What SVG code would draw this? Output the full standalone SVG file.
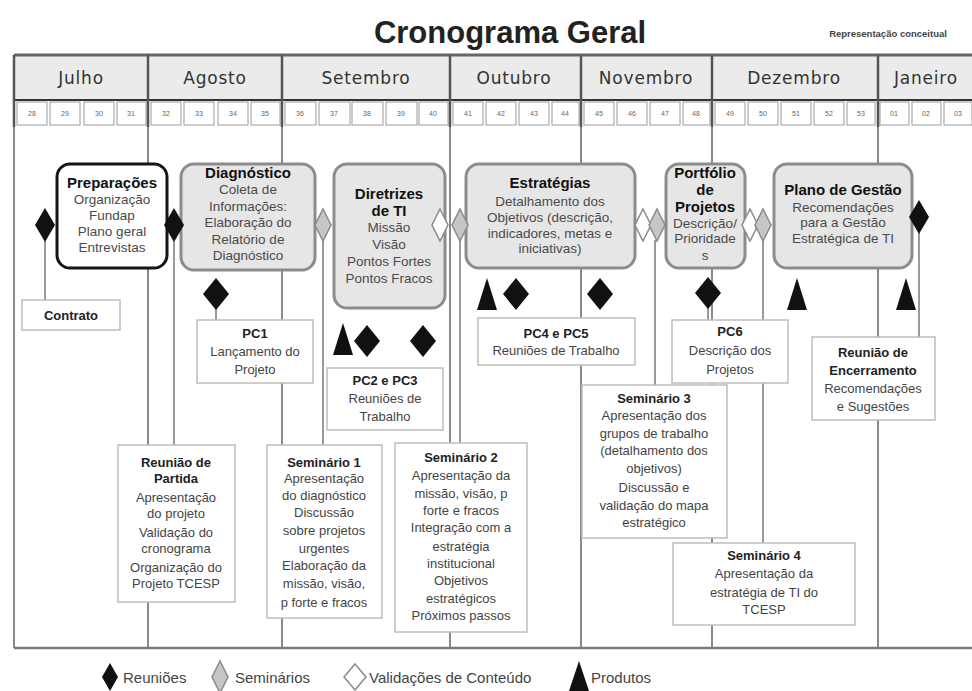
<svg xmlns="http://www.w3.org/2000/svg" width="972" height="691" viewBox="0 0 972 691">
<style>
  text { font-family: "Liberation Sans", Arial, sans-serif; }
  .title { font-size: 31px; font-weight: bold; fill: #222; }
  .sub { font-size: 9.5px; fill: #444; font-weight: bold; }
  .month { font-family: "DejaVu Sans", Verdana, sans-serif; font-size: 17px; fill: #333; letter-spacing: 0.8px; text-anchor: middle; }
  .wk { font-size: 7px; fill: #666; text-anchor: middle; }
  .wcell { fill: #fff; stroke: #9a9a9a; stroke-width: 1; }
  .grid { stroke: #8a8a8a; stroke-width: 2; fill: none; }
  .hdr { stroke: #555; stroke-width: 2.5; fill: none; }
  .conn { stroke: #9a9a9a; stroke-width: 2; fill: none; }
  .node { fill: #e6e6e6; stroke: #8c8c8c; stroke-width: 3; }
  .node0 { fill: #fff; stroke: #151515; stroke-width: 3; }
  .box { fill: #fff; stroke: #bdbdbd; stroke-width: 1.5; }
  .nt { font-size: 15px; font-weight: bold; fill: #111; text-anchor: middle; }
  .nb { font-size: 13.5px; fill: #4a4a4a; text-anchor: middle; }
  .bt { font-size: 13px; font-weight: bold; fill: #222; text-anchor: middle; }
  .bb { font-size: 13px; fill: #444; text-anchor: middle; }
  .leg { font-size: 15px; fill: #444; }
  .blk { fill: #111; }
  .gry { fill: #c6c6c6; stroke: #8a8a8a; stroke-width: 1.5; }
  .wht { fill: #fff; stroke: #8a8a8a; stroke-width: 1.5; }
</style>
<defs>
  <path id="dB" d="M0,-17 L10,0 L0,17 L-10,0Z"/>
  <path id="dBig" d="M0,-16 L13,0 L0,16 L-13,0Z"/>
  <path id="dS" d="M0,-16 L8,0 L0,16 L-8,0Z"/>
  <path id="tri" d="M0,-16 L10,16 L-10,16Z"/>
</defs>

<text class="title" x="510" y="43" text-anchor="middle">Cronograma Geral</text>
<text class="sub" x="888" y="37" text-anchor="middle">Representação conceitual</text>

<g id="table">
  <rect x="14" y="55" width="958" height="45" fill="#ebebeb"/>
  <line x1="14" y1="55" x2="972" y2="55" stroke="#666" stroke-width="3"/>
  <line x1="14" y1="100" x2="972" y2="100" stroke="#333" stroke-width="2"/>
  <text class="month" x="81" y="84">Julho</text>
  <text class="month" x="215" y="84">Agosto</text>
  <text class="month" x="366" y="84">Setembro</text>
  <text class="month" x="514" y="84">Outubro</text>
  <text class="month" x="646" y="84">Novembro</text>
  <text class="month" x="794" y="84">Dezembro</text>
  <text class="month" x="926" y="84">Janeiro</text>
  <g id="weeks">
    <rect class="wcell" x="17" y="102" width="30" height="23"/><text class="wk" x="32" y="116">28</text>
    <rect class="wcell" x="50" y="102" width="30" height="23"/><text class="wk" x="65" y="116">29</text>
    <rect class="wcell" x="84" y="102" width="30" height="23"/><text class="wk" x="99" y="116">30</text>
    <rect class="wcell" x="117" y="102" width="29" height="23"/><text class="wk" x="131" y="116">31</text>
    <rect class="wcell" x="151" y="102" width="30" height="23"/><text class="wk" x="166" y="116">32</text>
    <rect class="wcell" x="184" y="102" width="30" height="23"/><text class="wk" x="199" y="116">33</text>
    <rect class="wcell" x="218" y="102" width="30" height="23"/><text class="wk" x="233" y="116">34</text>
    <rect class="wcell" x="251" y="102" width="29" height="23"/><text class="wk" x="265" y="116">35</text>
    <rect class="wcell" x="285" y="102" width="31" height="23"/><text class="wk" x="300" y="116">36</text>
    <rect class="wcell" x="319" y="102" width="31" height="23"/><text class="wk" x="334" y="116">37</text>
    <rect class="wcell" x="352" y="102" width="31" height="23"/><text class="wk" x="367" y="116">38</text>
    <rect class="wcell" x="386" y="102" width="31" height="23"/><text class="wk" x="401" y="116">39</text>
    <rect class="wcell" x="419" y="102" width="29" height="23"/><text class="wk" x="433" y="116">40</text>
    <rect class="wcell" x="453" y="102" width="30" height="23"/><text class="wk" x="468" y="116">41</text>
    <rect class="wcell" x="486" y="102" width="30" height="23"/><text class="wk" x="501" y="116">42</text>
    <rect class="wcell" x="519" y="102" width="30" height="23"/><text class="wk" x="534" y="116">43</text>
    <rect class="wcell" x="552" y="102" width="27" height="23"/><text class="wk" x="565" y="116">44</text>
    <rect class="wcell" x="584" y="102" width="30" height="23"/><text class="wk" x="599" y="116">45</text>
    <rect class="wcell" x="617" y="102" width="30" height="23"/><text class="wk" x="632" y="116">46</text>
    <rect class="wcell" x="650" y="102" width="30" height="23"/><text class="wk" x="665" y="116">47</text>
    <rect class="wcell" x="683" y="102" width="27" height="23"/><text class="wk" x="696" y="116">48</text>
    <rect class="wcell" x="715" y="102" width="30" height="23"/><text class="wk" x="730" y="116">49</text>
    <rect class="wcell" x="748" y="102" width="30" height="23"/><text class="wk" x="763" y="116">50</text>
    <rect class="wcell" x="781" y="102" width="30" height="23"/><text class="wk" x="796" y="116">51</text>
    <rect class="wcell" x="814" y="102" width="30" height="23"/><text class="wk" x="829" y="116">52</text>
    <rect class="wcell" x="847" y="102" width="28" height="23"/><text class="wk" x="861" y="116">53</text>
    <rect class="wcell" x="880" y="102" width="29" height="23"/><text class="wk" x="894" y="116">01</text>
    <rect class="wcell" x="912" y="102" width="29" height="23"/><text class="wk" x="926" y="116">02</text>
    <rect class="wcell" x="944" y="102" width="28" height="23"/><text class="wk" x="958" y="116">03</text>
  </g>
  <g class="grid">
    <line x1="14" y1="55" x2="14" y2="648"/>
    <line x1="148" y1="55" x2="148" y2="648"/>
    <line x1="282" y1="55" x2="282" y2="648"/>
    <line x1="450" y1="55" x2="450" y2="648"/>
    <line x1="581" y1="55" x2="581" y2="648"/>
    <line x1="712" y1="55" x2="712" y2="648"/>
    <line x1="878" y1="55" x2="878" y2="648"/>
    <line x1="14" y1="648" x2="972" y2="648" stroke="#7a7a7a" stroke-width="2.5"/>
  </g>
  <g class="hdr">
    <line x1="14" y1="55" x2="14" y2="127"/>
    <line x1="148" y1="55" x2="148" y2="127"/>
    <line x1="282" y1="55" x2="282" y2="127"/>
    <line x1="450" y1="55" x2="450" y2="127"/>
    <line x1="581" y1="55" x2="581" y2="127"/>
    <line x1="712" y1="55" x2="712" y2="127"/>
    <line x1="878" y1="55" x2="878" y2="127"/>
  </g>
</g>

<g id="connectors" class="conn">
  <line x1="45" y1="240" x2="45" y2="300"/>
  <line x1="174" y1="240" x2="174" y2="445"/>
  <line x1="216" y1="308" x2="216" y2="320"/>
  <line x1="323" y1="240" x2="323" y2="445"/>
  <line x1="460" y1="240" x2="460" y2="443"/>
  <line x1="655" y1="240" x2="655" y2="385"/>
  <line x1="763" y1="240" x2="763" y2="543"/>
  <line x1="708" y1="307" x2="708" y2="320"/>
  <line x1="919" y1="232" x2="919" y2="337"/>
</g>

<g id="preparacoes">
  <rect class="node0" x="57" y="164" width="110" height="104" rx="13"/>
  <text class="nt" x="112" y="188">Preparações</text>
  <text class="nb" x="112" y="204">Organização</text>
  <text class="nb" x="112" y="220">Fundap</text>
  <text class="nb" x="112" y="236">Plano geral</text>
  <text class="nb" x="112" y="252">Entrevistas</text>
</g>
<g id="diagnostico">
  <rect class="node" x="181" y="164" width="134" height="106" rx="13"/>
  <text class="nt" x="248" y="178">Diagnóstico</text>
  <text class="nb" x="248" y="194">Coleta de</text>
  <text class="nb" x="248" y="211">Informações:</text>
  <text class="nb" x="248" y="227">Elaboração do</text>
  <text class="nb" x="248" y="244">Relatório de</text>
  <text class="nb" x="248" y="260">Diagnóstico</text>
</g>
<g id="diretrizes">
  <rect class="node" x="334" y="164" width="111" height="144" rx="13"/>
  <text class="nt" x="389" y="199">Diretrizes</text>
  <text class="nt" x="389" y="216">de TI</text>
  <text class="nb" x="389" y="232">Missão</text>
  <text class="nb" x="389" y="249">Visão</text>
  <text class="nb" x="389" y="266">Pontos Fortes</text>
  <text class="nb" x="389" y="283">Pontos Fracos</text>
</g>
<g id="estrategias">
  <rect class="node" x="466" y="164" width="169" height="104" rx="13"/>
  <text class="nt" x="550" y="188">Estratégias</text>
  <text class="nb" x="550" y="206">Detalhamento dos</text>
  <text class="nb" x="550" y="222">Objetivos (descrição,</text>
  <text class="nb" x="550" y="238">indicadores, metas e</text>
  <text class="nb" x="550" y="253">iniciativas)</text>
</g>
<g id="portfolio">
  <rect class="node" x="666" y="164" width="79" height="104" rx="13"/>
  <text class="nt" x="705" y="178">Portfólio</text>
  <text class="nt" x="705" y="195">de</text>
  <text class="nt" x="705" y="212">Projetos</text>
  <text class="nb" x="705" y="228">Descrição/</text>
  <text class="nb" x="705" y="243">Prioridade</text>
  <text class="nb" x="705" y="260">s</text>
</g>
<g id="plano">
  <rect class="node" x="774" y="164" width="138" height="104" rx="13"/>
  <text class="nt" x="843" y="195">Plano de Gestão</text>
  <text class="nb" x="843" y="212">Recomendações</text>
  <text class="nb" x="843" y="227">para a Gestão</text>
  <text class="nb" x="843" y="243">Estratégica de TI</text>
</g>

<g id="markers">
  <use href="#dB" class="blk" x="45" y="225"/>
  <use href="#dB" class="blk" x="174" y="225"/>
  <use href="#dS" class="gry" x="323" y="225"/>
  <use href="#dS" class="wht" x="440" y="225"/>
  <use href="#dS" class="gry" x="460" y="225"/>
  <use href="#dS" class="wht" x="643" y="225"/>
  <use href="#dS" class="gry" x="657" y="225"/>
  <use href="#dS" class="wht" x="750" y="225"/>
  <use href="#dS" class="gry" x="763" y="225"/>
  <use href="#dB" class="blk" x="919" y="217"/>
  <use href="#dBig" class="blk" x="216" y="294"/>
  <use href="#tri" class="blk" x="343" y="339"/>
  <use href="#dBig" class="blk" x="367" y="341"/>
  <use href="#dBig" class="blk" x="423" y="341"/>
  <use href="#tri" class="blk" x="487" y="294"/>
  <use href="#dBig" class="blk" x="516" y="294"/>
  <use href="#dBig" class="blk" x="600" y="294"/>
  <use href="#dBig" class="blk" x="708" y="293"/>
  <use href="#tri" class="blk" x="797" y="294"/>
  <use href="#tri" class="blk" x="906" y="294"/>
</g>

<g id="contrato">
  <rect class="box" x="22" y="300" width="98" height="30"/>
  <text class="bt" x="71" y="320">Contrato</text>
</g>
<g id="pc1">
  <rect class="box" x="197" y="320" width="116" height="63"/>
  <text class="bt" x="255" y="338">PC1</text>
  <text class="bb" x="255" y="356">Lançamento do</text>
  <text class="bb" x="255" y="374">Projeto</text>
</g>
<g id="pc2pc3">
  <rect class="box" x="327" y="368" width="116" height="62"/>
  <text class="bt" x="385" y="385">PC2 e PC3</text>
  <text class="bb" x="385" y="403">Reuniões de</text>
  <text class="bb" x="385" y="421">Trabalho</text>
</g>
<g id="pc4pc5">
  <rect class="box" x="478" y="318" width="157" height="47"/>
  <text class="bt" x="556" y="338">PC4 e PC5</text>
  <text class="bb" x="556" y="355">Reuniões de Trabalho</text>
</g>
<g id="pc6">
  <rect class="box" x="672" y="320" width="116" height="63"/>
  <text class="bt" x="730" y="336">PC6</text>
  <text class="bb" x="730" y="355">Descrição dos</text>
  <text class="bb" x="730" y="374">Projetos</text>
</g>
<g id="encerramento">
  <rect class="box" x="812" y="337" width="123" height="83"/>
  <text class="bt" x="873" y="357">Reunião de</text>
  <text class="bt" x="873" y="375">Encerramento</text>
  <text class="bb" x="873" y="393">Recomendações</text>
  <text class="bb" x="873" y="411">e Sugestões</text>
</g>
<g id="partida">
  <rect class="box" x="118" y="445" width="117" height="157"/>
  <text class="bt" x="176" y="467">Reunião de</text>
  <text class="bt" x="176" y="483">Partida</text>
  <text class="bb" x="176" y="502">Apresentação</text>
  <text class="bb" x="176" y="518">do projeto</text>
  <text class="bb" x="176" y="537">Validação do</text>
  <text class="bb" x="176" y="553">cronograma</text>
  <text class="bb" x="176" y="572">Organização do</text>
  <text class="bb" x="176" y="588">Projeto TCESP</text>
</g>
<g id="seminario1">
  <rect class="box" x="267" y="445" width="115" height="173"/>
  <text class="bt" x="324" y="467">Seminário 1</text>
  <text class="bb" x="324" y="483">Apresentação</text>
  <text class="bb" x="324" y="500">do diagnóstico</text>
  <text class="bb" x="324" y="517">Discussão</text>
  <text class="bb" x="324" y="535">sobre projetos</text>
  <text class="bb" x="324" y="553">urgentes</text>
  <text class="bb" x="324" y="570">Elaboração da</text>
  <text class="bb" x="324" y="588">missão, visão,</text>
  <text class="bb" x="324" y="607">p forte e fracos</text>
</g>
<g id="seminario2">
  <rect class="box" x="395" y="443" width="132" height="189"/>
  <text class="bt" x="461" y="462">Seminário 2</text>
  <text class="bb" x="461" y="480">Apresentação da</text>
  <text class="bb" x="461" y="498">missão, visão, p</text>
  <text class="bb" x="461" y="515">forte e fracos</text>
  <text class="bb" x="461" y="532">Integração com a</text>
  <text class="bb" x="461" y="551">estratégia</text>
  <text class="bb" x="461" y="568">institucional</text>
  <text class="bb" x="461" y="585">Objetivos</text>
  <text class="bb" x="461" y="603">estratégicos</text>
  <text class="bb" x="461" y="620">Próximos passos</text>
</g>
<g id="seminario3">
  <rect class="box" x="582" y="385" width="145" height="153"/>
  <text class="bt" x="654" y="403">Seminário 3</text>
  <text class="bb" x="654" y="420">Apresentação  dos</text>
  <text class="bb" x="654" y="438">grupos de trabalho</text>
  <text class="bb" x="654" y="455">(detalhamento dos</text>
  <text class="bb" x="654" y="473">objetivos)</text>
  <text class="bb" x="654" y="492">Discussão e</text>
  <text class="bb" x="654" y="510">validação do mapa</text>
  <text class="bb" x="654" y="527">estratégico</text>
</g>
<g id="seminario4">
  <rect class="box" x="673" y="543" width="182" height="82"/>
  <text class="bt" x="764" y="560">Seminário 4</text>
  <text class="bb" x="764" y="578">Apresentação da</text>
  <text class="bb" x="764" y="597">estratégia de TI do</text>
  <text class="bb" x="764" y="614">TCESP</text>
</g>

<g id="legend">
  <path class="blk" d="M110,663 L118,677 L110,691 L102,677Z"/>
  <text class="leg" x="123" y="683">Reuniões</text>
  <use href="#dS" class="gry" x="220" y="677"/>
  <text class="leg" x="235" y="683">Seminários</text>
  <path class="wht" d="M355,664 L366,677 L355,690 L344,677Z"/>
  <text class="leg" x="369" y="683">Validações de Conteúdo</text>
  <path class="blk" d="M579,661 L589,691 L569,691Z"/>
  <text class="leg" x="591" y="683">Produtos</text>
</g>
</svg>
